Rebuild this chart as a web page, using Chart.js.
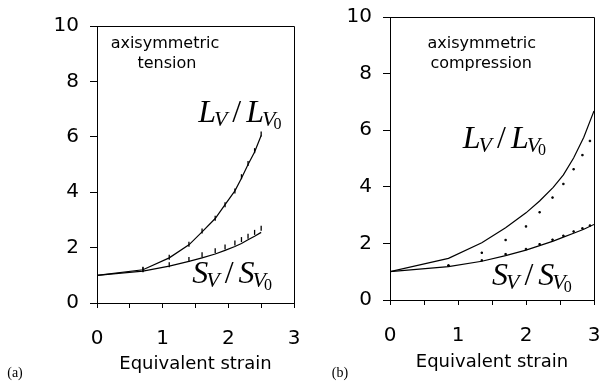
<!DOCTYPE html>
<html>
<head>
<meta charset="utf-8">
<script src="https://cdn.jsdelivr.net/npm/chart.js@4"></script>
<style>
  html, body { margin: 0; padding: 0; background: #fff; }
  #wrap { position: relative; width: 609px; height: 381px; }
  canvas { position: absolute; top: 0; }
  #chartA { left: 0; }
  #chartB { left: 300px; }
</style>
</head>
<body>
<div id="wrap">
  <canvas id="chartA" width="300" height="381"></canvas>
  <canvas id="chartB" width="309" height="381"></canvas>
</div>
<script>
// (a) axisymmetric tension
const tensionLineX  = [0, 0.7, 1.1, 1.4, 1.6, 1.8, 1.95, 2.1, 2.2, 2.3, 2.4, 2.5];
const tensionLvLine = [1, 1.2, 1.63, 2.1, 2.57, 3.05, 3.55, 4.05, 4.5, 5.0, 5.45, 6.05];
const tensionSvLine = [1, 1.15, 1.33, 1.5, 1.63, 1.77, 1.9, 2.04, 2.15, 2.28, 2.41, 2.55];
const tensionMarkX  = [0.7, 1.1, 1.4, 1.6, 1.8, 1.95, 2.1, 2.2, 2.3, 2.4, 2.5];
const tensionLvMarks = [1.22, 1.65, 2.12, 2.6, 3.06, 3.55, 4.04, 4.56, 5.04, 5.5, 6.1];
const tensionSvMarks = [1.2, 1.38, 1.57, 1.74, 1.89, 2.02, 2.17, 2.29, 2.41, 2.55, 2.7];

// (b) axisymmetric compression
const compLineX  = [0, 0.86, 1.35, 1.7, 2.0, 2.2, 2.4, 2.55, 2.7, 2.85, 3.0];
const compLvLine = [1, 1.47, 2.02, 2.55, 3.08, 3.5, 3.98, 4.42, 5.02, 5.75, 6.68];
const compSvLine = [1, 1.18, 1.37, 1.57, 1.76, 1.92, 2.08, 2.22, 2.36, 2.5, 2.67];
const compMarkX  = [0.86, 1.35, 1.7, 2.0, 2.2, 2.39, 2.55, 2.7, 2.83, 2.94];
const compLvMarks = [1.21, 1.67, 2.12, 2.6, 3.1, 3.62, 4.1, 4.62, 5.12, 5.62];
const compSvMarks = [1.22, 1.4, 1.62, 1.8, 1.97, 2.13, 2.27, 2.42, 2.53, 2.63];

const xTicks = [0, 1, 2, 3];
const yTicks = [0, 2, 4, 6, 8, 10];
const xTitle = 'Equivalent strain';

const pts = (xs, ys) => xs.map((x, i) => ({ x: x, y: ys[i] }));

// L_V / L_{V_0} style label
function drawRatio(ctx, sym, px, py) {
  let x = px;
  ctx.textAlign = 'left';
  ctx.textBaseline = 'alphabetic';
  const big = 'italic 32px "Liberation Serif"';
  const sub = 'italic 22px "Liberation Serif"';
  ctx.font = big;
  ctx.fillText(sym, x, py);
  x += ctx.measureText(sym).width - 2;
  ctx.font = sub;
  ctx.fillText('V', x, py + 4);
  x += ctx.measureText('V').width + 5;
  ctx.font = '32px "Liberation Serif"';
  ctx.fillText('/', x, py);
  x += ctx.measureText('/').width + 5;
  ctx.font = big;
  ctx.fillText(sym, x, py);
  x += ctx.measureText(sym).width - 2;
  ctx.font = sub;
  ctx.fillText('V', x, py + 4);
  x += ctx.measureText('V').width - 2;
  ctx.font = '16px "Liberation Serif"';
  ctx.fillText('0', x, py + 7);
}

const framePlugin = {
  id: 'frame',
  afterDraw(chart, args, o) {
    const { ctx, chartArea: a, scales: { x, y } } = chart;
    ctx.save();
    ctx.strokeStyle = '#000';
    ctx.lineWidth = 1;
    ctx.beginPath();
    ctx.moveTo(Math.round(a.left), Math.round(a.top) + 0.5);
    ctx.lineTo(Math.round(a.right) + 0.5, Math.round(a.top) + 0.5);
    ctx.lineTo(Math.round(a.right) + 0.5, Math.round(a.bottom));
    ctx.stroke();

    ctx.fillStyle = '#000';
    ctx.font = '16px "DejaVu Sans"';
    ctx.textAlign = 'center';
    ctx.textBaseline = 'alphabetic';
    o.notes.forEach(n => ctx.fillText(n.text, x.getPixelForValue(n.x), y.getPixelForValue(n.y)));

    o.ratios.forEach(r => drawRatio(ctx, r.sym, x.getPixelForValue(r.x), y.getPixelForValue(r.y)));

    ctx.font = '14px "Liberation Serif"';
    ctx.textAlign = 'center';
    ctx.textBaseline = 'middle';
    ctx.fillText(o.tag, o.tagX, 373);
    ctx.restore();
  }
};

function makeChart(id, d) {
  const ctx = document.getElementById(id).getContext('2d');
  const lineStyle = { showLine: true, borderColor: '#000', borderWidth: 1.2, pointRadius: 0, tension: 0, fill: false };
  return new Chart(ctx, {
    type: 'scatter',
    data: {
      datasets: [
        Object.assign({ label: 'Lv', data: pts(d.lineX, d.lv) }, lineStyle),
        Object.assign({ label: 'Sv', data: pts(d.lineX, d.sv) }, lineStyle),
        { label: 'Lv data', data: pts(d.markX, d.lvMarks), showLine: false,
          pointStyle: d.markStyle, rotation: 90, pointRadius: d.markRadius,
          borderColor: '#000', backgroundColor: '#000', borderWidth: d.markWidth },
        { label: 'Sv data', data: pts(d.markX, d.svMarks), showLine: false,
          pointStyle: d.markStyle, rotation: 90, pointRadius: d.markRadius,
          borderColor: '#000', backgroundColor: '#000', borderWidth: d.markWidth }
      ]
    },
    options: {
      responsive: false,
      animation: false,
      events: [],
      layout: { padding: d.padding },
      plugins: {
        legend: { display: false },
        tooltip: { enabled: false },
        frame: { notes: d.notes, ratios: d.ratios, tag: d.tag, tagX: d.tagX }
      },
      scales: {
        x: {
          type: 'linear', min: 0, max: 3,
          afterFit: s => { s.height = d.xHeight; s.paddingLeft = 0; s.paddingRight = 0; },
          border: { display: true, color: '#000', width: 1 },
          grid: { drawOnChartArea: false, drawTicks: true, tickLength: 5, color: '#000' },
          ticks: {
            stepSize: 0.5, autoSkip: false, maxRotation: 0, padding: 19,
            color: '#000', font: { family: 'DejaVu Sans', size: 20 },
            callback: v => xTicks.includes(v) ? String(v) : ''
          },
          title: { display: true, text: xTitle, color: '#000', padding: 0,
                   font: { family: 'DejaVu Sans', size: 18 } }
        },
        y: {
          type: 'linear', min: 0, max: 10,
          afterFit: s => { s.width = 50; s.paddingTop = 0; s.paddingBottom = 0; },
          border: { display: true, color: '#000', width: 1 },
          grid: { drawOnChartArea: false, drawTicks: true, tickLength: 7, color: '#000' },
          ticks: {
            stepSize: 2, padding: 11, color: '#000',
            font: { family: 'DejaVu Sans', size: 20 },
            callback: v => yTicks.includes(v) ? String(v) : ''
          }
        }
      }
    },
    plugins: [framePlugin]
  });
}

makeChart('chartA', {
  lineX: tensionLineX, lv: tensionLvLine, sv: tensionSvLine,
  markX: tensionMarkX, lvMarks: tensionLvMarks, svMarks: tensionSvMarks,
  markStyle: 'line', markRadius: 2.5, markWidth: 1.3,
  padding: { left: 47, right: 6, top: 26, bottom: 6 }, xHeight: 72,
  notes: [{ text: 'axisymmetric', x: 1.035, y: 9.2 }, { text: 'tension', x: 1.065, y: 8.48 }],
  ratios: [{ sym: 'L', x: 1.54, y: 6.53 }, { sym: 'S', x: 1.45, y: 0.72 }],
  tag: '(a)', tagX: 15
});

makeChart('chartB', {
  lineX: compLineX, lv: compLvLine, sv: compSvLine,
  markX: compMarkX, lvMarks: compLvMarks, svMarks: compSvMarks,
  markStyle: 'rect', markRadius: 1, markWidth: 1,
  padding: { left: 40, right: 15, top: 17, bottom: 8 }, xHeight: 73,
  notes: [{ text: 'axisymmetric', x: 1.35, y: 8.9 }, { text: 'compression', x: 1.34, y: 8.2 }],
  ratios: [{ sym: 'L', x: 1.07, y: 5.37 }, { sym: 'S', x: 1.5, y: 0.53 }],
  tag: '(b)', tagX: 40
});
</script>
</body>
</html>
